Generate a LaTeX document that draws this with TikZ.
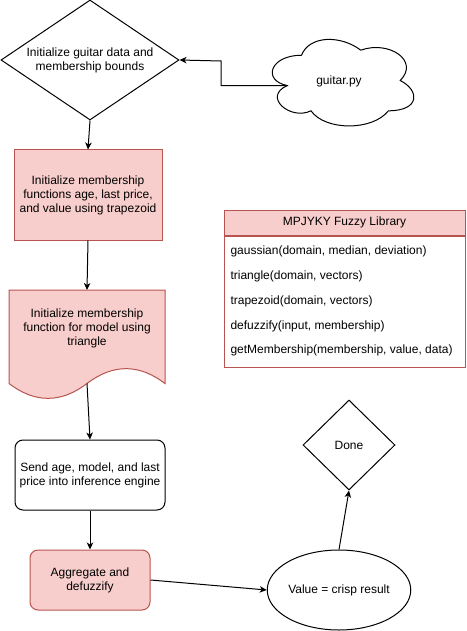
\documentclass[tikz,border=0pt]{standalone}
\usepackage{fontspec}
\setmainfont{Liberation Sans}
\usetikzlibrary{shapes.geometric,arrows.meta}
\definecolor{pinkfill}{HTML}{F8CECC}
\definecolor{pinkline}{HTML}{B85450}
\begin{document}
\begin{tikzpicture}[x=1pt,y=-1pt,line width=1pt,
  every node/.style={font=\fontsize{12}{14}\selectfont, inner sep=0pt},
  arr/.style={draw=black, -{Stealth[length=7pt,width=6.5pt,inset=2pt]}},
  pinkbox/.style={draw=pinkline, fill=pinkfill},
  dia/.style={diamond, draw, inner sep=0pt},
  txt/.style={align=center}]
\useasboundingbox (0,0) rectangle (466,631);

% start diamond
\node[dia, minimum width=178pt, minimum height=120pt,
  label={[txt]center:Initialize guitar data and\\membership bounds}] (d1) at (90,60) {};

% cloud
\begin{scope}[shift={(262,30)}, x=158pt, y=-101pt]
\draw[fill=white] (0.25,0.25) .. controls (0.05,0.25) and (0,0.5) .. (0.16,0.55)
  .. controls (0,0.66) and (0.18,0.9) .. (0.31,0.8)
  .. controls (0.4,1) and (0.7,1) .. (0.8,0.8)
  .. controls (1,0.8) and (1,0.6) .. (0.875,0.5)
  .. controls (1,0.3) and (0.8,0.1) .. (0.625,0.2)
  .. controls (0.5,0.05) and (0.3,0.05) .. (0.25,0.25) -- cycle;
\coordinate (cloudw) at (0.16,0.55);
\end{scope}
\node (cloud) at (339,81) {guitar.py};
\coordinate (bend) at (221,61);
\draw[arr] (cloudw) -| (bend) -- (d1.east);

% rect 1
\node[pinkbox, minimum width=148pt, minimum height=90pt, txt] (r1) at (88,195)
  {Initialize membership\\functions age, last price,\\and value using trapezoid};

% document shape
\draw[pinkbox] (9,290) -- (165,290) -- (165,383.5)
  .. controls (139,363.7) and (113,363.7) .. (87,383.5)
  .. controls (61,403.3) and (35,403.3) .. (9,383.5) -- cycle;
\coordinate (doctop) at (87,290);
\coordinate (docbot) at (87,383.5);
\node[txt] (doc) at (87,328) {Initialize membership\\function for model using\\triangle};

% rect 3
\node[draw, rounded corners=8pt, minimum width=150pt, minimum height=70pt, txt] (r3) at (90,475)
  {Send age, model, and last\\price into inference engine};

% rect 4
\node[pinkbox, rounded corners=8pt, minimum width=120pt, minimum height=60pt, txt] (r4) at (90,580)
  {Aggregate and\\defuzzify};

% ellipse
\node[ellipse, draw, minimum width=140pt, minimum height=80pt] (ell) at (339,590) {Value = crisp result};

% done
\node[dia, minimum width=92pt, minimum height=90pt, label={center:Done}] (done) at (349,445) {};

% edges
\draw[arr] (d1.south) -- (r1.north);
\draw[arr] (r1.south) -- (doctop);
\draw[arr] (docbot) -- (r3.north);
\draw[arr] (r3.south) -- (r4.north);
\draw[arr] (r4.east) -- (ell.west);
\draw[arr] (ell.north) -- (done.south);

% table
\node[pinkbox, minimum width=241pt, minimum height=25pt] (thead) at (344.5,222.5) {MPJYKY Fuzzy Library};
\node[draw=pinkline, fill=white, minimum width=241pt, minimum height=131pt, anchor=north] (tbody) at (thead.south) {};
\node[anchor=west] (f1) at (230,251) {gaussian(domain, median, deviation)};
\node[anchor=west] (f2) at (230,276) {triangle(domain, vectors)};
\node[anchor=west] (f3) at (230,301) {trapezoid(domain, vectors)};
\node[anchor=west] (f4) at (230,326) {defuzzify(input, membership)};
\node[anchor=west] (f5) at (230,350) {getMembership(membership, value, data)};
\end{tikzpicture}
\end{document}
